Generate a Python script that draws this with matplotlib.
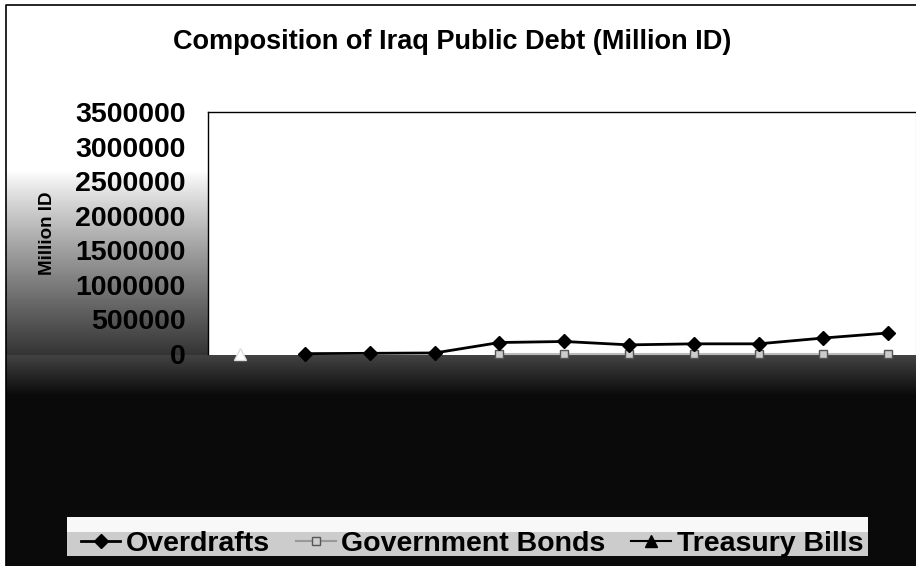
"""
Composition of Iraq Public Debt (Million ID) - beolvasott Excel diagram újrarajzolása
"""

import matplotlib.pyplot as plt
import numpy as np
from matplotlib.lines import Line2D

# Adatok (11 időpont, a tengelyfeliratok olvashatatlanok)
periods = np.arange(11)
overdrafts = [np.nan, 5000, 10000, 15000, 166000, 181000, 132000, 147000, 147000, 231000, 304000]
government_bonds = [np.nan, np.nan, np.nan, np.nan, 0, 0, 0, 0, 0, 0, 0]
treasury_bills = [0, np.nan, np.nan, np.nan, np.nan, np.nan, np.nan, np.nan, np.nan, np.nan, np.nan]
y_ticks = [0, 500000, 1000000, 1500000, 2000000, 2500000, 3000000, 3500000]

plt.rcParams['font.family'] = ['Liberation Sans', 'DejaVu Sans']

W, H = 916, 566
fig = plt.figure(figsize=(W / 100, H / 100), dpi=100)

# Háttér: a szkennelt kép sötét alsó része
yy, xx = np.mgrid[0:H, 0:W]
bg = np.ones((H, W))
left = (xx < 208) & (yy >= 170) & (yy < 355)
bg[left] = 1 - 0.8 * np.clip((yy[left] - 170) / 185, 0, 1) ** 0.9
bg[yy >= 355] = 0.04
near = (yy >= 355) & (yy < 395)
bg[near] = 0.04 + 0.22 * (1 - (yy[near] - 355) / 40)
bg[(xx >= 67) & (xx < 868) & (yy >= 517) & (yy < 532)] = 0.97
bg[(xx >= 67) & (xx < 868) & (yy >= 532) & (yy < 556)] = 0.8
bg[:, :6] = 1
bg[:5, :] = 1

ax_bg = fig.add_axes([0, 0, 1, 1], zorder=0)
ax_bg.imshow(bg, cmap='gray', vmin=0, vmax=1, aspect='auto', extent=(0, W, H, 0))
ax_bg.set_xlim(0, W)
ax_bg.set_ylim(H, 0)
ax_bg.axis('off')

# keret
ax_bg.plot([6, 6, W], [H, 5, 5], color='black', lw=1.2)

# Diagram
ax = fig.add_axes([208 / W, 1 - 354 / H, 708 / W, (354 - 112) / H], zorder=2)
ax.set_facecolor('white')

ax.plot(periods, overdrafts, color='black', lw=2, marker='D', markersize=7,
        clip_on=False, label='Overdrafts', zorder=4)
ax.plot(periods, government_bonds, color='#bbbbbb', lw=1.5, marker='s', markersize=6,
        markerfacecolor='#cccccc', markeredgecolor='#555555', clip_on=False,
        label='Government Bonds', zorder=3)
ax.plot(periods, treasury_bills, color='white', lw=1.5, marker='^', markersize=8,
        markerfacecolor='white', markeredgecolor='#dddddd', clip_on=False,
        label='Treasury Bills', zorder=3)

ax.set_xlim(-0.5, 10.43)
ax.set_ylim(0, 3500000)
ax.set_yticks(y_ticks)
ax.set_yticklabels([str(v) for v in y_ticks], fontsize=20.5, fontweight='bold')
ax.set_xticks([])
ax.tick_params(axis='y', length=0, pad=16)

for s in ['left', 'top']:
    ax.spines[s].set_color('black')
    ax.spines[s].set_linewidth(1)
ax.spines['right'].set_color('#999999')
ax.spines['bottom'].set_visible(False)

# Cím és tengelyfelirat
fig.text(452 / W, 1 - 42 / H, 'Composition of Iraq Public Debt (Million ID)',
         ha='center', va='center', fontsize=19.5, fontweight='bold')
fig.text(47 / W, 1 - 233 / H, 'Million ID', rotation=90, ha='center', va='center',
         fontsize=13.5, fontweight='bold')

# Jelmagyarázat
handles = [
    Line2D([], [], color='black', lw=2, marker='D', markersize=7),
    Line2D([], [], color='#999999', lw=1.5, marker='s', markersize=6,
           markerfacecolor='#cccccc', markeredgecolor='#555555'),
    Line2D([], [], color='black', lw=1.5, marker='^', markersize=8),
]
fig.legend(handles, ['Overdrafts', 'Government Bonds', 'Treasury Bills'],
           loc='center', bbox_to_anchor=(472 / W, 1 - 544 / H), ncol=3,
           frameon=False, prop={'size': 20.5, 'weight': 'bold'},
           handlelength=1.4, handletextpad=0.2, columnspacing=0.9,
           borderpad=0, borderaxespad=0)

plt.savefig('out.png', dpi=100)
